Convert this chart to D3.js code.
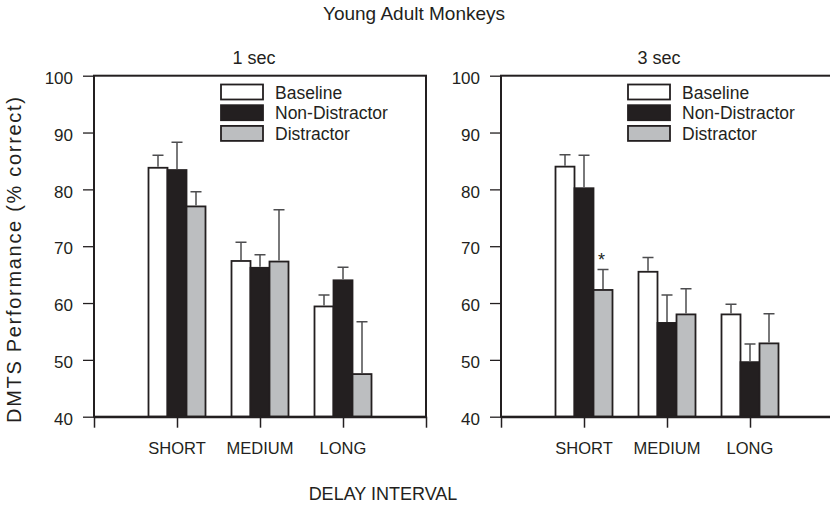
<!DOCTYPE html>
<html>
<head>
<meta charset="utf-8">
<script src="https://cdn.jsdelivr.net/npm/d3@7"></script>
<style>
    body { margin: 0; background: #fff; }
    text { font-family: "Liberation Sans", Arial, sans-serif; fill: #231f20; }
</style>
</head>
<body>
<div id="chart"></div>
<script>
// data
const categories = ["SHORT", "MEDIUM", "LONG"];
const seriesNames = ["Baseline", "Non-Distractor", "Distractor"];
const yTicks = [40, 50, 60, 70, 80, 90, 100];

// rows follow seriesNames, columns follow categories
const oneSecMeans = [[83.8, 67.4, 59.4], [83.4, 66.2, 64.0], [77.0, 67.3, 47.5]];
const oneSecErrors = [[2.2, 3.3, 2.0], [4.9, 2.3, 2.3], [2.6, 9.1, 9.2]];
const threeSecMeans = [[84.0, 65.5, 58.0], [80.2, 56.5, 49.6], [62.3, 58.0, 52.9]];
const threeSecErrors = [[2.1, 2.5, 1.8], [5.8, 4.9, 3.2], [3.6, 4.5, 5.2]];
const oneSecStars = [];
const threeSecStars = [["Distractor", "SHORT"]];

const INK = "#231f20";
const FILLS = {"Baseline": "#ffffff", "Non-Distractor": "#231f20", "Distractor": "#bcbec0"};
const ERR_COLOR = "#4d4d4f";

const width = 830, height = 505;
const plotTop = 75.7, plotBottom = 416.7, panelWidth = 332;

var svg = d3.select("#chart")
    .append("svg")
    .attr("width", width)
    .attr("height", height);

var yScale = d3.scaleLinear().domain([40, 100]).range([plotBottom, plotTop]);
var xScale = d3.scaleLinear().domain([0, 4]).range([0, panelWidth]);
var barScale = d3.scaleBand().domain(seriesNames).range([-28.5, 28.5]).padding(0);

function drawPanel(left, title, titleX, means, errors, stars) {
    var g = svg.append("g").attr("transform", `translate(${left},0)`);

    var rows = [];
    seriesNames.forEach((s, i) => categories.forEach((c, j) => {
        rows.push({s: s, c: c, pos: j + 1, v: means[i][j], e: errors[i][j]});
    }));

    g.selectAll(".bar")
        .data(rows)
        .enter()
        .append("rect")
        .attr("class", "bar")
        .attr("x", d => xScale(d.pos) + barScale(d.s))
        .attr("y", d => yScale(d.v))
        .attr("width", barScale.bandwidth())
        .attr("height", d => yScale(40) - yScale(d.v))
        .attr("fill", d => FILLS[d.s])
        .attr("stroke", INK)
        .attr("stroke-width", 1.8);

    // error bars, upper side only
    var cx = d => xScale(d.pos) + barScale(d.s) + barScale.bandwidth() / 2;
    g.selectAll(".err")
        .data(rows)
        .enter()
        .append("path")
        .attr("class", "err")
        .attr("d", d => `M${cx(d)},${yScale(d.v) - 1}V${yScale(d.v + d.e)}M${cx(d) - 5.5},${yScale(d.v + d.e)}h11`)
        .attr("fill", "none")
        .attr("stroke", ERR_COLOR)
        .attr("stroke-width", 1.5);

    g.selectAll(".star")
        .data(rows.filter(d => stars.some(p => p[0] === d.s && p[1] === d.c)))
        .enter()
        .append("text")
        .attr("class", "star")
        .attr("x", d => cx(d) - 1.5)
        .attr("y", d => yScale(d.v + d.e) - 4)
        .attr("text-anchor", "middle")
        .style("font-size", "18px")
        .text("*");

    // frame
    g.append("rect")
        .attr("x", 0)
        .attr("y", plotTop)
        .attr("width", panelWidth)
        .attr("height", plotBottom - plotTop)
        .attr("fill", "none")
        .attr("stroke", INK)
        .attr("stroke-width", 2);

    var yAxis = g.append("g")
        .call(d3.axisLeft(yScale).tickValues(yTicks).tickSize(11).tickPadding(10));
    yAxis.select(".domain").remove();
    yAxis.selectAll("line").attr("stroke", INK).attr("stroke-width", 1.3);
    yAxis.selectAll("text")
        .attr("dy", "0.45em")
        .style("font-size", "17px")
        .style("font-family", "'Liberation Sans', Arial, sans-serif")
        .attr("fill", INK);

    var xAxis = g.append("g")
        .attr("transform", `translate(0,${plotBottom})`)
        .call(d3.axisBottom(xScale).tickValues([0, 1, 2, 3, 4]).tickSize(11).tickSizeOuter(0).tickFormat(""));
    xAxis.select(".domain").attr("stroke", INK).attr("stroke-width", 2);
    xAxis.selectAll("line").attr("stroke", INK).attr("stroke-width", 1.5);

    g.selectAll(".cat")
        .data(categories)
        .enter()
        .append("text")
        .attr("class", "cat")
        .attr("x", (d, j) => xScale(j + 1))
        .attr("y", 454)
        .attr("text-anchor", "middle")
        .style("font-size", "16.5px")
        .text(d => d);

    // legend
    var leg = g.selectAll(".leg")
        .data(seriesNames)
        .enter()
        .append("g")
        .attr("class", "leg")
        .attr("transform", (d, i) => `translate(127,${84.5 + i * 20.7})`);
    leg.append("rect")
        .attr("width", 42)
        .attr("height", 15)
        .attr("fill", d => FILLS[d])
        .attr("stroke", INK)
        .attr("stroke-width", 1.8);
    leg.append("text")
        .attr("x", 54)
        .attr("y", 14)
        .style("font-size", "17.5px")
        .text(d => d);

    svg.append("text")
        .attr("x", titleX)
        .attr("y", 64)
        .attr("text-anchor", "middle")
        .style("font-size", "18px")
        .text(title);
}

drawPanel(94, "1 sec", 254, oneSecMeans, oneSecErrors, oneSecStars);
drawPanel(501, "3 sec", 659, threeSecMeans, threeSecErrors, threeSecStars);

svg.append("text")
    .attr("x", 414)
    .attr("y", 20)
    .attr("text-anchor", "middle")
    .style("font-size", "19px")
    .text("Young Adult Monkeys");

svg.append("text")
    .attr("x", 383)
    .attr("y", 500)
    .attr("text-anchor", "middle")
    .style("font-size", "18px")
    .text("DELAY INTERVAL");

svg.append("text")
    .attr("transform", "translate(21,260) rotate(-90)")
    .attr("text-anchor", "middle")
    .attr("textLength", 326)
    .attr("lengthAdjust", "spacing")
    .style("font-size", "20px")
    .text("DMTS Performance (% correct)");
</script>
</body>
</html>
